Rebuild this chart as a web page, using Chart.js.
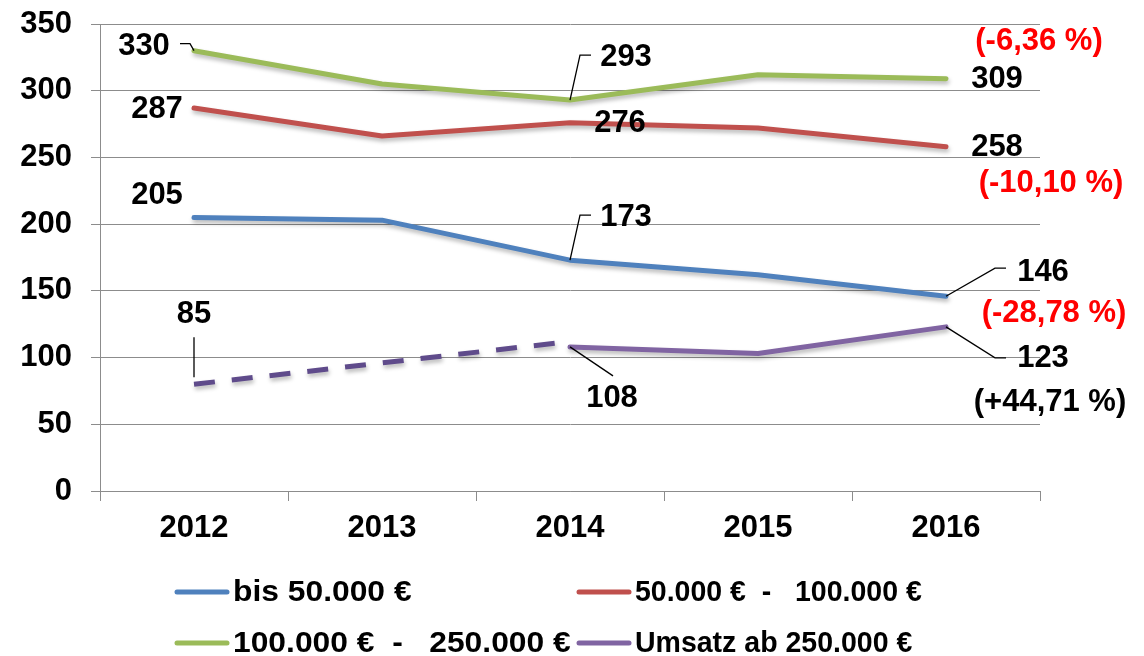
<!DOCTYPE html>
<html>
<head>
<meta charset="utf-8">
<script src="https://cdn.jsdelivr.net/npm/chart.js@4/dist/chart.umd.min.js"></script>
<style>
  html, body { margin: 0; padding: 0; background: #fff; }
  #wrap { width: 1144px; height: 656px; }
</style>
</head>
<body>
<div id="wrap"><canvas id="c" width="1144" height="656"></canvas></div>
<script>
// ---- data ----
const years = ['2012', '2013', '2014', '2015', '2016'];
const bis50 = [205, 203, 173, 162, 146];
const von50bis100 = [287, 266, 276, 272, 258];
const von100bis250 = [330, 305, 293, 312, 309];
const ab250 = [null, null, 108, 103, 123];
const ab250Dashed = [80, 96, 112, null, null];
const seriesNames = ['bis 50.000 €', '50.000 €  -   100.000 €', '100.000 €  -   250.000 €', 'Umsatz ab 250.000 €'];
const yMin = 0, yMax = 350, yStep = 50;
const pointLabelTexts = ['330', '287', '205', '293', '276', '173', '309', '258', '146', '123', '108', '85'];
const changeTexts = ['(-6,36 %)', '(-10,10 %)', '(-28,78 %)', '(+44,71 %)'];

// ---- styles ----
const FONT = '"Liberation Sans", Arial, sans-serif';
const colors = ['#4F81BD', '#C0504D', '#9BBB59', '#8064A2'];
const dashedColor = '#5F4B8B';
const gridColor = '#8C8C8C';
const NUM_SIZE = 31;

// label layout: dataset index, point index, text, offsets from point, colour, leader path
const annotations = [
  { ds: 2, i: 0, text: pointLabelTexts[0], dx: -50, dy: -4, leader: [[-14, -7], [-4, -7], [0, 0]] },
  { ds: 1, i: 0, text: pointLabelTexts[1], dx: -37, dy: 1 },
  { ds: 0, i: 0, text: pointLabelTexts[2], dx: -37, dy: -22 },
  { ds: 2, i: 2, text: pointLabelTexts[3], dx: 56, dy: -43, leader: [[0, 0], [10, -45], [21, -45]] },
  { ds: 1, i: 2, text: pointLabelTexts[4], dx: 50, dy: 1 },
  { ds: 0, i: 2, text: pointLabelTexts[5], dx: 56, dy: -43, leader: [[0, 0], [10, -45], [21, -45]] },
  { ds: 2, i: 4, text: pointLabelTexts[6], dx: 51, dy: 1 },
  { ds: 2, i: 4, text: changeTexts[0], dx: 93, dy: -37, color: '#FF0000' },
  { ds: 1, i: 4, text: pointLabelTexts[7], dx: 51, dy: 1 },
  { ds: 1, i: 4, text: changeTexts[1], dx: 105, dy: 37, color: '#FF0000' },
  { ds: 0, i: 4, text: pointLabelTexts[8], dx: 97, dy: -24, leader: [[0, 0], [49, -28], [60, -28]] },
  { ds: 0, i: 4, text: changeTexts[2], dx: 108, dy: 17, color: '#FF0000' },
  { ds: 3, i: 4, text: pointLabelTexts[9], dx: 97, dy: 32, leader: [[0, 0], [49, 31], [60, 31]] },
  { ds: 3, i: 4, text: changeTexts[3], dx: 104, dy: 76 },
  { ds: 3, i: 2, text: pointLabelTexts[10], dx: 42, dy: 52, leader: [[0, 0], [43, 29]] },
  { ds: 4, i: 0, text: pointLabelTexts[11], dx: 0, dy: -70, leader: [[0, -7], [0, -47]] }
];

const shadowPlugin = {
  id: 'shadow',
  beforeDatasetDraw(chart) {
    const ctx = chart.ctx;
    ctx.save();
    ctx.shadowColor = 'rgba(0,0,0,0.28)';
    ctx.shadowBlur = 4;
    ctx.shadowOffsetX = 1;
    ctx.shadowOffsetY = 3;
  },
  afterDatasetDraw(chart) {
    chart.ctx.restore();
  }
};

const labelPlugin = {
  id: 'labels',
  afterDraw(chart) {
    const ctx = chart.ctx;
    const xs = chart.scales.x, ys = chart.scales.y;
    ctx.save();
    ctx.font = 'bold ' + NUM_SIZE + 'px ' + FONT;
    ctx.textAlign = 'center';
    ctx.textBaseline = 'middle';
    annotations.forEach(a => {
      const v = chart.data.datasets[a.ds].data[a.i];
      const px = xs.getPixelForValue(a.i);
      const py = ys.getPixelForValue(v);
      if (a.leader) {
        ctx.beginPath();
        ctx.strokeStyle = '#000';
        ctx.lineWidth = 1.3;
        a.leader.forEach((p, k) => {
          if (k === 0) ctx.moveTo(px + p[0], py + p[1]);
          else ctx.lineTo(px + p[0], py + p[1]);
        });
        ctx.stroke();
      }
      ctx.fillStyle = a.color || '#000';
      ctx.fillText(a.text, px + a.dx, py + a.dy);
    });
    ctx.restore();
  }
};

const legendPlugin = {
  id: 'customLegend',
  afterDraw(chart) {
    const ctx = chart.ctx;
    const cols = [177, 579];
    const stretch = [1.06, 0.95];
    const rows = [592, 643];
    seriesNames.forEach((name, k) => {
      const c = k % 2;
      const x = cols[c], y = rows[Math.floor(k / 2)];
      ctx.save();
      ctx.beginPath();
      ctx.strokeStyle = colors[k];
      ctx.lineWidth = 5;
      ctx.lineCap = 'round';
      ctx.moveTo(x, y);
      ctx.lineTo(x + 50, y);
      ctx.stroke();
      ctx.translate(x + 56, y + 1);
      ctx.scale(stretch[c], 1);
      ctx.font = 'bold 30px ' + FONT;
      ctx.textAlign = 'left';
      ctx.textBaseline = 'middle';
      ctx.fillStyle = '#000';
      ctx.fillText(name, 0, 0);
      ctx.restore();
    });
  }
};

const lineDs = (label, data, color, extra) => Object.assign({
  label, data, borderColor: color, backgroundColor: color,
  borderWidth: 5, pointRadius: 0, tension: 0, fill: false,
  borderCapStyle: 'round', borderJoinStyle: 'round'
}, extra || {});

new Chart(document.getElementById('c'), {
  type: 'line',
  data: {
    labels: years,
    datasets: [
      lineDs(seriesNames[0], bis50, colors[0]),
      lineDs(seriesNames[1], von50bis100, colors[1]),
      lineDs(seriesNames[2], von100bis250, colors[2]),
      lineDs(seriesNames[3], ab250, colors[3]),
      lineDs('dashed', ab250Dashed, dashedColor, { borderDash: [21, 17], borderCapStyle: 'butt' })
    ]
  },
  options: {
    responsive: false,
    animation: false,
    events: [],
    layout: { padding: { left: 0, top: 24, right: 104, bottom: 115 } },
    scales: {
      x: {
        offset: true,
        grid: { offset: true, drawOnChartArea: false, drawTicks: true, tickLength: 10, color: gridColor, lineWidth: 1 },
        border: { color: gridColor, width: 1 },
        ticks: { color: '#000', font: { family: FONT, size: NUM_SIZE, weight: 'bold' }, padding: 9, maxRotation: 0 },
        afterFit: s => { s.height = 50; s.paddingLeft = 0; s.paddingRight = 0; }
      },
      y: {
        min: yMin, max: yMax,
        ticks: { stepSize: yStep, color: '#000', font: { family: FONT, size: NUM_SIZE, weight: 'bold' }, padding: 19 },
        grid: { color: gridColor, lineWidth: 1, tickLength: 9 },
        border: { color: gridColor, width: 1 },
        afterFit: s => { s.width = 100; s.paddingTop = 0; s.paddingBottom = 0; }
      }
    },
    plugins: { legend: { display: false }, tooltip: { enabled: false } }
  },
  plugins: [shadowPlugin, labelPlugin, legendPlugin]
});
</script>
</body>
</html>
